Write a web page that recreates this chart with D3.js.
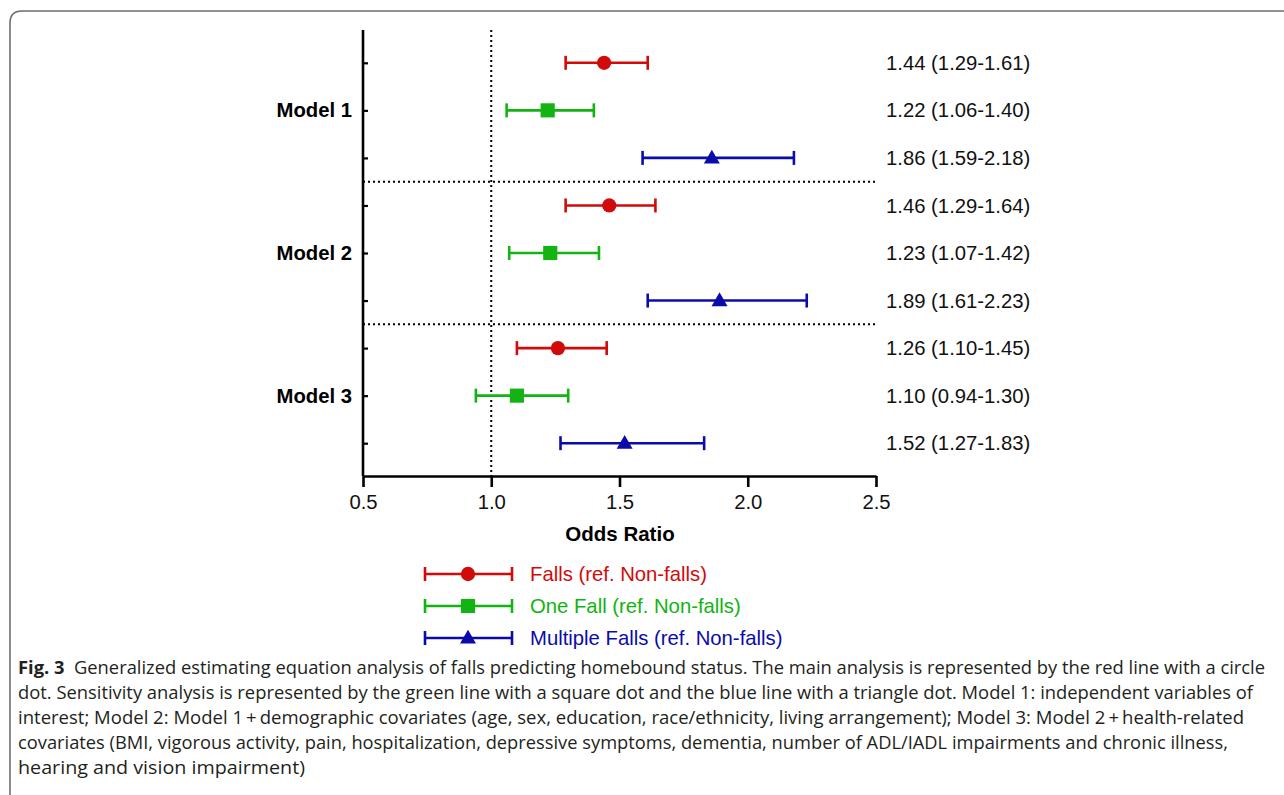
<!DOCTYPE html>
<html>
<head>
<meta charset="utf-8">
<script src="https://cdn.jsdelivr.net/npm/d3@7"></script>
<style>
  body { margin: 0; background: #fff; }
  svg { display: block; }
</style>
</head>
<body>
<div id="chart"></div>
<script>
// models, one block of three rows each
const models = ["Model 1", "Model 2", "Model 3"];
const seriesNames = ["Falls (ref. Non-falls)", "One Fall (ref. Non-falls)", "Multiple Falls (ref. Non-falls)"];
const seriesColors = ["#d10a0a", "#12b312", "#0b0baa"];
const seriesShapes = ["circle", "square", "triangle"];

// odds ratios and 95% CI, rows = models, cols = series
const oddsRatio = [[1.44, 1.22, 1.86], [1.46, 1.23, 1.89], [1.26, 1.10, 1.52]];
const lowerCI   = [[1.29, 1.06, 1.59], [1.29, 1.07, 1.61], [1.10, 0.94, 1.27]];
const upperCI   = [[1.61, 1.40, 2.18], [1.64, 1.42, 2.23], [1.45, 1.30, 1.83]];

const xTicks = [0.5, 1.0, 1.5, 2.0, 2.5];

const captionLines = [
  ["Fig. 3", "  Generalized estimating equation analysis of falls predicting homebound status. The main analysis is represented by the red line with a circle"],
  ["", "dot. Sensitivity analysis is represented by the green line with a square dot and the blue line with a triangle dot. Model 1: independent variables of"],
  ["", "interest; Model 2: Model 1\u2009+\u2009demographic covariates (age, sex, education, race/ethnicity, living arrangement); Model 3: Model 2\u2009+\u2009health-related"],
  ["", "covariates (BMI, vigorous activity, pain, hospitalization, depressive symptoms, dementia, number of ADL/IADL impairments and chronic illness,"],
  ["", "hearing and vision impairment)"]
];
const captionWidths = [1247, 1235, 1226, 1210, 287];

// flatten rows
const rows = [];
models.forEach((m, i) => {
  seriesNames.forEach((s, j) => {
    rows.push({
      id: i + "-" + j, model: i, series: j,
      or: oddsRatio[i][j], lo: lowerCI[i][j], hi: upperCI[i][j]
    });
  });
});

const W = 1284, H = 795;
const svg = d3.select("#chart").append("svg")
  .attr("width", W).attr("height", H);

// frame
svg.append("path")
  .attr("d", "M10,800 L10,23 Q10,11 22,11 L1290,11")
  .attr("fill", "none")
  .attr("stroke", "#6e6e6e")
  .attr("stroke-width", 1.6);

const plot = {left: 363, right: 876, top: 30, bottom: 476};

const x = d3.scaleLinear().domain([0.5, 2.5]).range([plot.left, plot.right]);
const y = d3.scalePoint().domain(rows.map(d => d.id))
  .range([plot.top, plot.bottom]).padding(0.69);

const font = "'Liberation Sans', Arial, sans-serif";
const fs = 20.3;

// reference line at OR = 1
svg.append("line")
  .attr("x1", x(1)).attr("x2", x(1))
  .attr("y1", plot.top).attr("y2", plot.bottom)
  .attr("stroke", "#000").attr("stroke-width", 2)
  .attr("stroke-dasharray", "2,3");

// separators between models
for (let i = 1; i < models.length; i++) {
  const yy = (y(rows[i * 3 - 1].id) + y(rows[i * 3].id)) / 2;
  svg.append("line")
    .attr("x1", plot.left).attr("x2", plot.right)
    .attr("y1", yy).attr("y2", yy)
    .attr("stroke", "#000").attr("stroke-width", 2)
    .attr("stroke-dasharray", "2,3");
}

// axes
const xAxis = svg.append("g")
  .attr("transform", `translate(0,${plot.bottom})`)
  .call(d3.axisBottom(x).tickValues(xTicks).tickFormat(d3.format(".1f")).tickSize(11).tickSizeOuter(0));
xAxis.select(".domain").attr("stroke-width", 2.6);
xAxis.selectAll(".tick line").attr("stroke-width", 2.6);
xAxis.selectAll(".tick text")
  .attr("font-family", font).attr("font-size", fs).attr("fill", "#111").attr("dy", "0.95em");

const yAxis = svg.append("g")
  .attr("transform", `translate(${plot.left},0)`)
  .call(d3.axisRight(y).tickSize(5).tickSizeOuter(0).tickFormat(""));
yAxis.select(".domain").attr("stroke-width", 2.6)
  .attr("d", `M0,${plot.top}V${plot.bottom}`);
yAxis.selectAll(".tick line").attr("stroke-width", 2.2);

svg.append("text")
  .attr("x", 620).attr("y", 541)
  .attr("text-anchor", "middle")
  .attr("font-family", font).attr("font-size", 20.5).attr("font-weight", "bold")
  .text("Odds Ratio");

// model labels
svg.selectAll(".model-label")
  .data(models)
  .enter().append("text")
  .attr("class", "model-label")
  .attr("x", 352)
  .attr("y", (d, i) => y(rows[i * 3 + 1].id))
  .attr("dy", "0.35em")
  .attr("text-anchor", "end")
  .attr("font-family", font).attr("font-size", fs).attr("font-weight", "bold")
  .text(d => d);

function symbolFor(shape) {
  if (shape === "circle") return d3.symbol(d3.symbolCircle, 160)();
  if (shape === "square") return d3.symbol(d3.symbolSquare, 200)();
  return d3.symbol(d3.symbolTriangle, 110)();
}

function drawBar(g, x1, x2, xm, yy, color, shape) {
  const cap = 7;
  g.append("line").attr("x1", x1).attr("x2", x2).attr("y1", yy).attr("y2", yy)
    .attr("stroke", color).attr("stroke-width", 2.6);
  [x1, x2].forEach(cx => {
    g.append("line").attr("x1", cx).attr("x2", cx).attr("y1", yy - cap).attr("y2", yy + cap)
      .attr("stroke", color).attr("stroke-width", 2.6);
  });
  g.append("path").attr("d", symbolFor(shape))
    .attr("transform", `translate(${xm},${yy + (shape === "triangle" ? 1 : 0)})`)
    .attr("fill", color);
}

// error bars
const bars = svg.append("g");
rows.forEach(d => {
  drawBar(bars, x(d.lo), x(d.hi), x(d.or), y(d.id), seriesColors[d.series], seriesShapes[d.series]);
});

// right side labels
const fmt = d3.format(".2f");
svg.selectAll(".or-label")
  .data(rows)
  .enter().append("text")
  .attr("class", "or-label")
  .attr("x", 886)
  .attr("y", d => y(d.id))
  .attr("dy", "0.35em")
  .attr("font-family", font).attr("font-size", fs).attr("fill", "#111")
  .text(d => `${fmt(d.or)} (${fmt(d.lo)}-${fmt(d.hi)})`);

// legend
const legend = svg.append("g");
seriesNames.forEach((name, j) => {
  const ly = 574 + j * 32;
  drawBar(legend, 425, 512, 468, ly, seriesColors[j], seriesShapes[j]);
  legend.append("text")
    .attr("x", 530).attr("y", ly).attr("dy", "0.35em")
    .attr("font-family", font).attr("font-size", fs)
    .attr("fill", seriesColors[j])
    .text(name);
});

// caption
const cap = svg.append("g");
captionLines.forEach((ln, i) => {
  const t = cap.append("text")
    .attr("x", 18).attr("y", 674 + i * 25)
    .attr("font-family", "'Open Sans', 'Noto Sans', sans-serif")
    .attr("font-size", 17.5).attr("fill", "#231f20")
    .attr("xml:space", "preserve")
    .attr("textLength", captionWidths[i])
    .attr("lengthAdjust", "spacingAndGlyphs");
  if (ln[0]) t.append("tspan").attr("font-weight", "bold").text(ln[0]);
  t.append("tspan").text(ln[1]);
});
</script>
</body>
</html>
